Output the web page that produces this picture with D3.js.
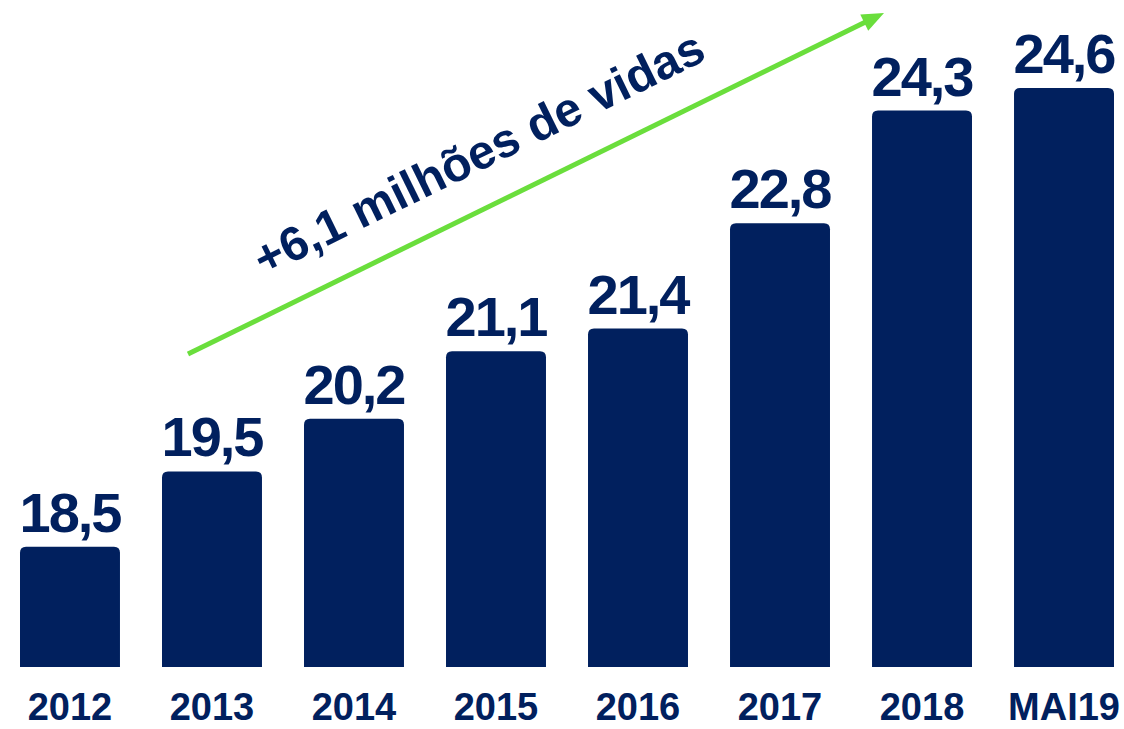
<!DOCTYPE html>
<html>
<head>
<meta charset="utf-8">
<script src="https://cdn.jsdelivr.net/npm/d3@7"></script>
<style>
  html, body { margin: 0; padding: 0; background: #fff; }
  svg { display: block; }
</style>
</head>
<body>
<svg id="chart" width="1124" height="729"></svg>
<script>
const categories = ['2012', '2013', '2014', '2015', '2016', '2017', '2018', 'MAI19'];
const values     = [18.5, 19.5, 20.2, 21.1, 21.4, 22.8, 24.3, 24.6];
const valueLabels = ['18,5', '19,5', '20,2', '21,1', '21,4', '22,8', '24,3', '24,6'];
const annotation = '+6,1 milhões de vidas';

const BAR_COLOR  = '#01205e';
const TEXT_COLOR = '#01205e';
const ARROW_COLOR = '#6ade3c';
const FONT = '"Liberation Sans", Arial, sans-serif';

const svg = d3.select('#chart');

const x = d3.scaleBand()
  .domain(categories)
  .range([20, 1114])
  .paddingInner(0.296)
  .paddingOuter(0);

// value axis is not zero based in the original
const y = d3.scaleLinear()
  .domain([16.9, 24.6])
  .range([667, 88]);

const R = 6;
function barPath(x0, y0, w, y1) {
  return `M${x0},${y1} V${y0 + R} Q${x0},${y0} ${x0 + R},${y0} H${x0 + w - R} Q${x0 + w},${y0} ${x0 + w},${y0 + R} V${y1} Z`;
}

const rows = categories.map((c, i) => ({ cat: c, v: values[i], label: valueLabels[i] }));

svg.append('g').selectAll('path')
  .data(rows)
  .join('path')
  .attr('d', d => barPath(x(d.cat), y(d.v), x.bandwidth(), y.range()[0]))
  .attr('fill', BAR_COLOR);

svg.append('g').selectAll('text')
  .data(rows)
  .join('text')
  .attr('x', d => x(d.cat) + x.bandwidth() / 2)
  .attr('y', d => y(d.v) - 15)
  .attr('text-anchor', 'middle')
  .attr('font-family', FONT)
  .attr('font-weight', 'bold')
  .attr('font-size', 56)
  .attr('letter-spacing', -2)
  .attr('fill', TEXT_COLOR)
  .text(d => d.label);

// category labels
svg.append('g').selectAll('text')
  .data(categories)
  .join('text')
  .attr('x', d => x(d) + x.bandwidth() / 2)
  .attr('y', 720)
  .attr('text-anchor', 'middle')
  .attr('font-family', FONT)
  .attr('font-weight', 'bold')
  .attr('font-size', 38)
  .attr('fill', TEXT_COLOR)
  .text(d => d);

// ── Growth arrow ──────────────────────────────────────────
const a0 = [188, 354], a1 = [884, 13];
const ang = Math.atan2(a1[1] - a0[1], a1[0] - a0[0]);
const headL = 22, headW = 9;
const ux = Math.cos(ang), uy = Math.sin(ang);
const bx = a1[0] - ux * headL, by = a1[1] - uy * headL;

svg.append('line')
  .attr('x1', a0[0]).attr('y1', a0[1])
  .attr('x2', bx + ux * 2).attr('y2', by + uy * 2)
  .attr('stroke', ARROW_COLOR)
  .attr('stroke-width', 5);

svg.append('path')
  .attr('d', `M${a1[0]},${a1[1]} L${bx - uy * headW},${by + ux * headW} L${bx + uy * headW},${by - ux * headW} Z`)
  .attr('fill', ARROW_COLOR);

svg.append('text')
  .attr('transform', `translate(486,168) rotate(${ang * 180 / Math.PI})`)
  .attr('text-anchor', 'middle')
  .attr('font-family', FONT)
  .attr('font-weight', 'bold')
  .attr('font-size', 48)
  .attr('fill', TEXT_COLOR)
  .text(annotation);
</script>
</body>
</html>
